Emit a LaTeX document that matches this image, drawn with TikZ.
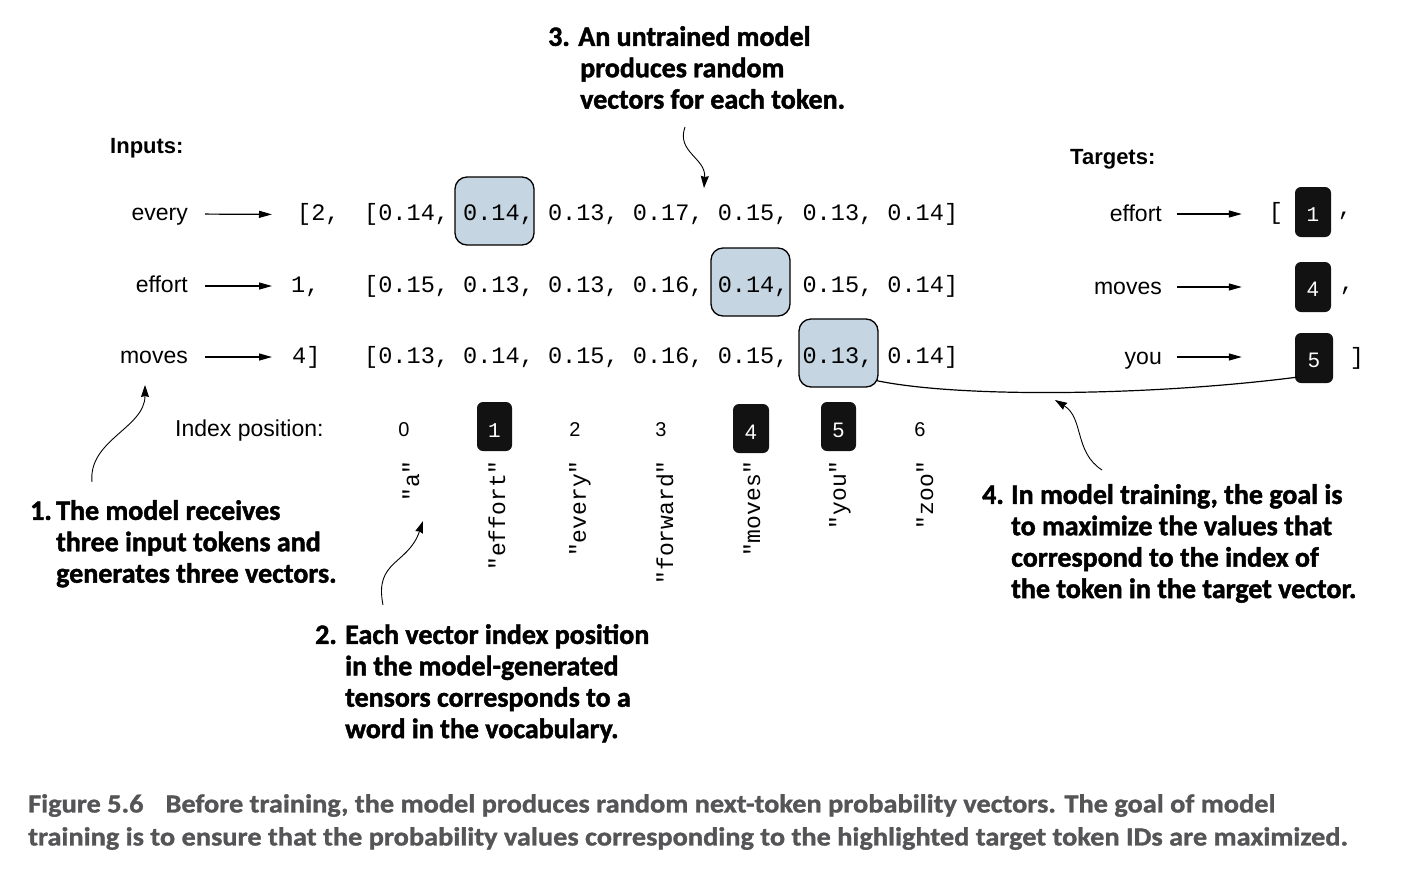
\documentclass[tikz,border=0pt]{standalone}
\usepackage{fontspec}
\setmainfont{Liberation Sans}
\newfontfamily\mono{Liberation Mono}
\newfontfamily\annfont[BoldFeatures={FakeBold=1.6}]{Carlito}
\newfontfamily\capfont[FakeStretch=1.09,BoldFeatures={FakeBold=1.2}]{Carlito}
\usetikzlibrary{arrows.meta}
\definecolor{hlfill}{RGB}{197,213,225}
\definecolor{boxblack}{RGB}{18,18,18}
\definecolor{capgray}{RGB}{85,85,87}
\newcommand\annlead[2]{\makebox[#1][l]{#2}}
\newcommand\tokdigit[2]{\raisebox{-#1}{#2}}
\begin{document}
\begin{tikzpicture}[x=1pt,y=-1pt,
  lbl/.style={font=\fontsize{23}{27}\selectfont, inner sep=0pt},
  hdr/.style={font=\fontsize{22}{26}\selectfont\bfseries, inner sep=0pt},
  vec/.style={font=\mono\fontsize{23.57}{27}\selectfont, inner sep=0pt, anchor=base west},
  voc/.style={font=\mono\fontsize{23}{27}\selectfont, inner sep=0pt, rotate=90, anchor=east},
  idx/.style={font=\fontsize{20}{24}\selectfont, inner sep=0pt},
  hl/.style={draw=black, line width=1.3pt, fill=hlfill, rounded corners=12pt, minimum width=79pt, minimum height=68pt, inner sep=0pt},
  tok/.style={fill=boxblack, rounded corners=6pt, minimum width=36pt, minimum height=50pt, inner sep=0pt, text=white, text height=14.5pt, text depth=0pt, font=\fontsize{21}{24}\selectfont},
  idxtok/.style={tok, minimum width=35pt, minimum height=49pt},
  arr/.style={line width=1.2pt, -{Stealth[length=13pt,width=7pt,inset=0pt]}},
  callout/.style={line width=0.9pt, -{Stealth[length=12pt,width=8pt,inset=1pt]}},
  ann/.style={font=\annfont\bfseries\fontsize{28}{31.4}\selectfont, inner sep=0pt, align=left, anchor=north west},
  captext/.style={font=\capfont\bfseries\fontsize{26}{33}\selectfont, text=capgray, inner sep=0pt, align=left, anchor=north west}
]
\useasboundingbox[fill=white] (0,0) rectangle (1414,884);

% highlight boxes (behind text)
\node[hl] (h1) at (494.5,211) {};
\node[hl] (h2) at (750.5,282) {};
\node[hl] (h3) at (838.5,353) {};

% headers
\node[hdr, anchor=base west] (inputs) at (110,153) {Inputs:};
\node[hdr, anchor=base west] (targets) at (1070,164) {Targets:};

% input words
\node[lbl, anchor=base east] (in1) at (188,220) {every};
\node[lbl, anchor=base east] (in2) at (188,292) {effort};
\node[lbl, anchor=base east] (in3) at (188,363) {moves};

% ids
\node[vec] (id1) at (297,220.5) {[2,};
\node[vec] (id2) at (291,292) {1,};
\node[vec] (id3) at (292,363) {4]};

\draw[arr, shorten <=17pt, shorten >=25pt] ([yshift=6pt]in1.base east) -- ([yshift=6pt]id1.base west);
\draw[arr, shorten <=17pt, shorten >=19pt] ([yshift=6pt]in2.base east) -- ([yshift=6pt]id2.base west);
\draw[arr, shorten <=17pt, shorten >=20pt] ([yshift=6pt]in3.base east) -- ([yshift=6pt]id3.base west);

% vectors
\node[vec] (v1) at (364,220.5) {[0.14, 0.14, 0.13, 0.17, 0.15, 0.13, 0.14]};
\node[vec] (v2) at (364,292) {[0.15, 0.13, 0.13, 0.16, 0.14, 0.15, 0.14]};
\node[vec] (v3) at (364,363) {[0.13, 0.14, 0.15, 0.16, 0.15, 0.13, 0.14]};

% index row
\node[lbl, anchor=base west] (idxlbl) at (175,436) {Index position:};
\node[idx] (i0) at (404,430) {0};
\node[idxtok] (i1) at (494.5,426.5) {\tokdigit{4pt}{\mono 1}};
\node[idx] (i2) at (575,430) {2};
\node[idx] (i3) at (661,430) {3};
\node[idxtok, minimum width=36pt] (i4) at (751,428.5) {\tokdigit{4pt}{4}};
\node[idxtok] (i5) at (838.5,426.5) {\tokdigit{4pt}{5}};
\node[idx] (i6) at (920,430) {6};

% vocabulary
\node[voc] (w0) at (411,460) {"a"};
\node[voc] (w1) at (497,460) {"effort"};
\node[voc] (w2) at (580,460) {"every"};
\node[voc] (w3) at (665,460) {"forward"};
\node[voc] (w4) at (752,460) {"moves"};
\node[voc] (w5) at (840,460) {"you"};
\node[voc] (w6) at (925,460) {"zoo"};

% targets
\node[lbl, anchor=base east] (tg1) at (1162,221) {effort};
\node[lbl, anchor=base east] (tg2) at (1162,294) {moves};
\node[lbl, anchor=base east] (tg3) at (1162,364) {you};
\node[vec, anchor=center] (lb) at (1276,213) {[};
\node[tok] (t1) at (1313,212) {\tokdigit{2pt}{\mono 1}};
\node[vec, anchor=center] (c1) at (1345,216) {,};
\node[tok] (t4) at (1313,287) {\tokdigit{2pt}{4}};
\node[vec, anchor=center] (c2) at (1347,291) {,};
\node[tok, minimum width=38pt] (t5) at (1314,358) {\tokdigit{2pt}{5}};
\node[vec, anchor=center] (rb) at (1357,358) {]};

\coordinate (tg1a) at ([yshift=7pt]tg1.base east);
\coordinate (tg2a) at ([yshift=7pt]tg2.base east);
\coordinate (tg3a) at ([yshift=7pt]tg3.base east);
\draw[arr, shorten <=15pt, shorten >=53pt] (tg1a) -- (t1.west |- tg1a);
\draw[arr, shorten <=15pt, shorten >=53pt] (tg2a) -- (t4.west |- tg2a);
\draw[arr, shorten <=15pt, shorten >=53pt] (tg3a) -- (t5.west |- tg3a);

% curve from highlighted value to target 5
\draw[line width=1.2pt] ([shift={(-2,-7)}]h3.south east) .. controls (960,398) and (1150,396) .. ([shift={(2,-6)}]t5.south west);

% annotations
\node[ann] (ann3) at (548,26) {3. An untrained model\\\annlead{32pt}{}produces random\\\annlead{32pt}{}vectors for each token.};
\node[ann] (ann1) at (30,500) {\annlead{26pt}{1.}The model receives\\\annlead{26pt}{}three input tokens and\\\annlead{26pt}{}generates three vectors.};
\node[ann] (ann2) at (315,624) {\annlead{30pt}{2.}Each vector index position\\\annlead{30pt}{}in the model-generated\\\annlead{30pt}{}tensors corresponds to a\\\annlead{30pt}{}word in the vocabulary.};
\node[ann] (ann4) at (982,484) {\annlead{29pt}{4.}In model training, the goal is\\\annlead{29pt}{}to maximize the values that\\\annlead{29pt}{}correspond to the index of\\\annlead{29pt}{}the token in the target vector.};

% callout arrows
\coordinate (a1s) at (92,482);
\coordinate (a1e) at (145,385);
\draw[callout] (a1s) .. controls (88,440) and (145,428) .. (a1e);
\coordinate (a2s) at (383,605);
\coordinate (a2e) at (423,521);
\draw[callout] (a2s) .. controls (374,560) and (408,565) .. (a2e);
\coordinate (a3s) at (685,127);
\coordinate (a3e) at (704,188);
\draw[callout] (a3s) .. controls (676,152) and (706,158) .. (a3e);
\coordinate (a4s) at (1102,470);
\coordinate (a4e) at (1055,400);
\draw[callout] (a4s) .. controls (1074,452) and (1084,418) .. (a4e);

% caption
\node[captext] (caption) at (28,794) {Figure 5.6\hspace{22pt}Before training, the model produces random next-token probability vectors. The goal of model\\training is to ensure that the probability values corresponding to the highlighted target token IDs are maximized.};
\end{tikzpicture}
\end{document}
